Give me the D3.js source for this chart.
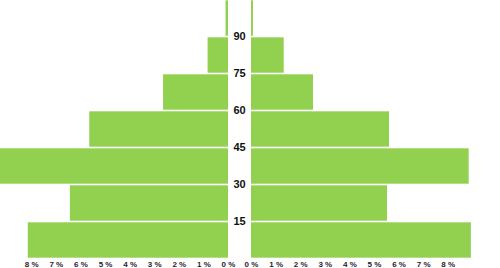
<!DOCTYPE html>
<html>
<head>
<meta charset="utf-8">
<script src="https://cdn.jsdelivr.net/npm/d3@7"></script>
<style>
  body { margin: 0; background: #fff; }
  svg { display: block; }
  .tick-label { font-family: "Liberation Sans", Arial, sans-serif; font-size: 8px; font-weight: bold; fill: #1f1f2f; }
  .age-label { font-family: "Liberation Sans", Arial, sans-serif; font-size: 11px; font-weight: bold; fill: #111; }
</style>
</head>
<body>
<div id="chart"></div>
<script>
// age groups (start of each 15-year band)
var ageStart = [0, 15, 30, 45, 60, 75, 90];
// percent of population, left and right side of the pyramid
var leftValues  = [8.14, 6.43, 9.3, 5.64, 2.64, 0.83, 0.1];
var rightValues = [8.94, 5.53, 8.85, 5.61, 2.52, 1.33, 0.08];
var xTicks = [0, 1, 2, 3, 4, 5, 6, 7, 8];
var ageTicks = [15, 30, 45, 60, 75, 90];

var width = 500, height = 268;
var barColor = "#92d050";

var svg = d3.select("#chart").append("svg")
  .attr("width", width)
  .attr("height", height);

var xLeft = d3.scaleLinear().domain([0, 9.27]).range([228, 0]);
var xRight = d3.scaleLinear().domain([0, 9.27]).range([251, 479]);
var y = d3.scaleLinear().domain([0, 105]).range([258.5, -0.5]);

var rows = ageStart.map(function(a, i){
  return {age: a, left: leftValues[i], right: rightValues[i]};
});

//left bars
svg.append("g").selectAll("rect")
  .data(rows).enter().append("rect")
  .attr("x", function(d){ return xLeft(d.left); })
  .attr("y", function(d){ return y(d.age + 15) + 0.8; })
  .attr("width", function(d){ return xLeft(0) - xLeft(d.left); })
  .attr("height", function(d){ return y(d.age) - y(d.age + 15) - 1.6; })
  .attr("fill", barColor);

//right bars
svg.append("g").selectAll("rect")
  .data(rows).enter().append("rect")
  .attr("x", xRight(0))
  .attr("y", function(d){ return y(d.age + 15) + 0.8; })
  .attr("width", function(d){ return xRight(d.right) - xRight(0); })
  .attr("height", function(d){ return y(d.age) - y(d.age + 15) - 1.6; })
  .attr("fill", barColor);

//bottom axes, no lines just labels
var fmt = function(d){ return d + " %"; };
var axL = svg.append("g")
  .attr("transform", "translate(0,258)")
  .call(d3.axisBottom(xLeft).tickValues(xTicks).tickFormat(fmt).tickSize(0).tickPadding(3));
var axR = svg.append("g")
  .attr("transform", "translate(0,258)")
  .call(d3.axisBottom(xRight).tickValues(xTicks).tickFormat(fmt).tickSize(0).tickPadding(3));
[axL, axR].forEach(function(ax){
  ax.select(".domain").remove();
  ax.selectAll("text").attr("class", "tick-label").attr("fill", null)
    .attr("font-size", null).attr("font-family", null);
});

//age labels in the middle gap
svg.append("g").selectAll("text")
  .data(ageTicks).enter().append("text")
  .attr("class", "age-label")
  .attr("x", (xLeft(0) + xRight(0)) / 2)
  .attr("y", function(d){ return y(d) - 1; })
  .attr("text-anchor", "middle")
  .attr("dominant-baseline", "central")
  .text(function(d){ return d; });
</script>
</body>
</html>
